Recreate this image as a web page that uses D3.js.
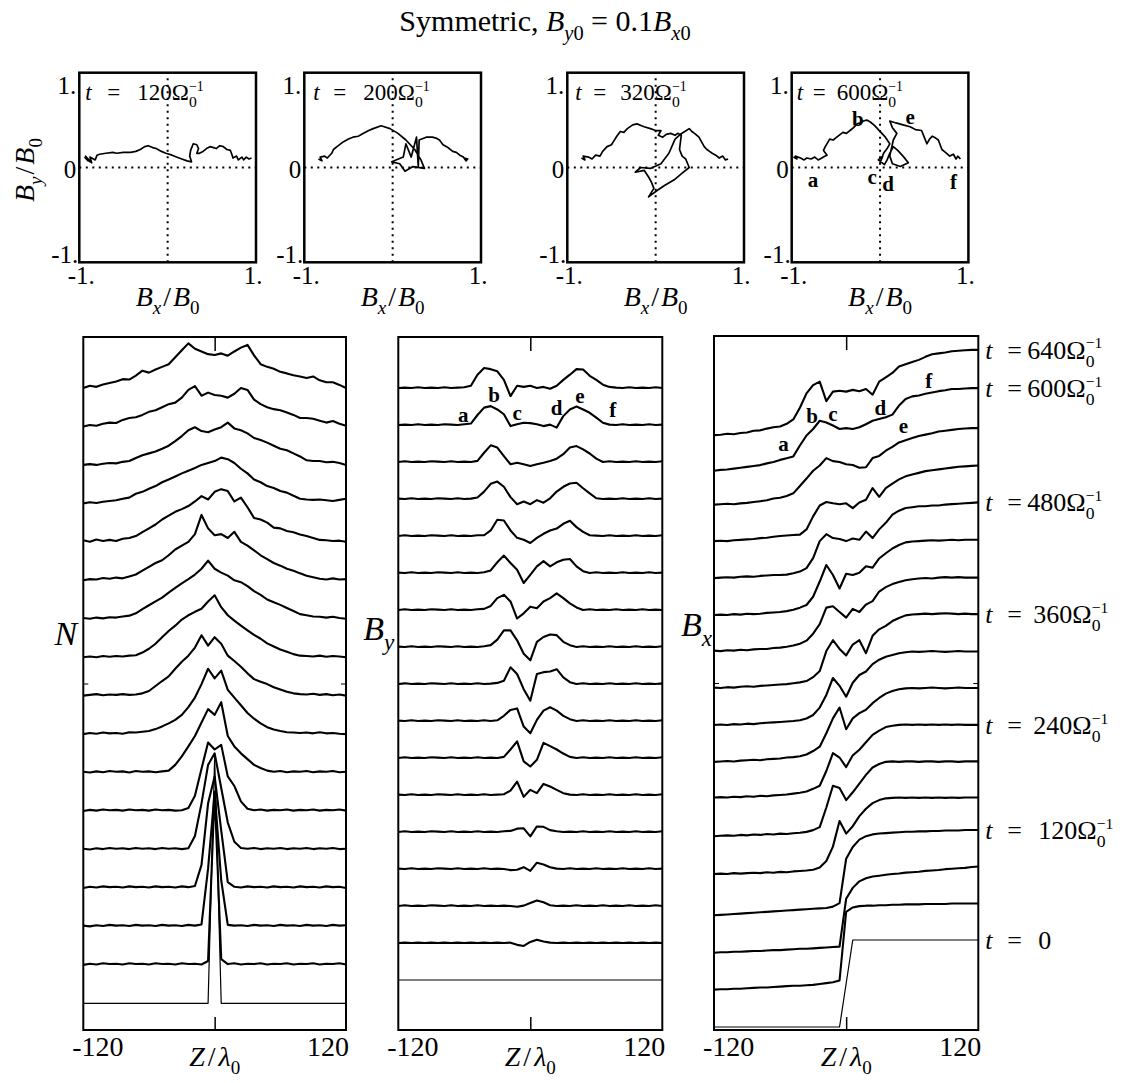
<!DOCTYPE html>
<html>
<head>
<meta charset="utf-8">
<script src="https://cdn.jsdelivr.net/npm/d3@7"></script>
<style>
  body { margin: 0; background: #fff; }
  svg { display: block; }
  text { font-family: 'Liberation Serif', 'DejaVu Serif', serif; fill: #000; }
</style>
</head>
<body>
<svg id="fig" width="1123" height="1083"></svg>
<script>
// ---- data ----
const zGrid = [-120,-114,-108,-102,-96,-90,-84,-78,-72,-66,-60,-54,-48,-42,-36,-30,-24,-18,-12,-6,0,
  6,12,18,24,30,36,42,48,54,60,66,72,78,84,90,96,102,108,114,120];
const times = [0,40,80,120,160,200,240,280,320,360,400,440,480,520,560,600,640];

// density N, row units above each baseline (index 0 = t=0)
const densityRows = [
  [0,0,0,0,0,0,0,0,0,0,0,0,0,0,0,0,0,0,0,0,6.4,0,0,0,0,0,0,0,0,0,0,0,0,0,0,0,0,0,0,0,0],
  [0,.03,.01,.04,.02,.03,.01,.04,.02,.03,.01,.04,.02,.03,.01,.04,.02,.03,.01,.10,4.50,.15,.02,.04,.01,.03,.02,.04,.01,.03,.02,.04,.01,.03,.02,.04,.01,.03,.02,.04,.01],
  [.02,0,.03,.01,.04,.02,.03,.01,.04,.02,.03,.01,.04,.02,.03,.01,.04,.02,.05,1.50,3.50,1.20,.04,.02,.03,.01,.04,.02,.03,.01,.04,.02,.03,.01,.04,.02,.03,.01,.04,.02,.03],
  [0,.03,.01,.04,.02,.03,.01,.04,.02,.03,.01,.04,.02,.03,.01,.04,.02,.05,.60,2.20,2.90,1.50,.15,.03,.01,.04,.02,.03,.01,.04,.02,.03,.01,.04,.02,.03,.01,.04,.02,.03,0],
  [.02,0,.03,.01,.04,.02,.03,.01,.04,.02,.03,.01,.04,.02,.03,.01,.03,.35,1.20,2.20,2.50,1.60,.70,.20,.04,.02,.04,.01,.03,.02,.04,.01,.03,.02,.04,.01,.03,.02,.04,.01,.02],
  [0,.03,.01,.04,.02,.03,.01,.04,.02,.03,.01,.04,.02,.03,.01,.02,.08,.40,1.10,1.78,1.60,1.72,.90,.65,.25,.06,.02,.04,.01,.03,.02,.04,.01,.03,.02,.04,.01,.03,.02,.04,.01],
  [.02,0,.03,.01,.04,.02,.03,0,.04,.02,.03,.01,.03,.05,.20,.42,.68,.95,1.30,1.65,1.50,1.83,.95,.68,.50,.35,.20,.12,.05,.02,.04,.01,.03,.02,.04,.01,.03,.02,.04,.01,.02],
  [0,.03,.01,.04,.02,.03,.01,.05,.04,.06,.08,.13,.20,.28,.37,.50,.70,.95,1.30,1.70,1.45,1.65,1.15,.95,.75,.55,.40,.28,.18,.12,.08,.05,.04,.03,.04,.02,.05,.02,.03,.01,0],
  [0,.02,.04,.01,.03,.02,.04,.02,.03,.06,.12,.25,.38,.50,.70,.88,1.04,1.25,1.57,1.30,1.52,1.35,1.04,.90,.75,.58,.43,.36,.30,.22,.16,.10,.06,.04,.03,.05,.02,.04,.01,.03,0],
  [0,.02,0,.03,.01,.03,.02,.04,.05,.12,.22,.35,.52,.68,.82,.98,1.09,1.18,1.26,1.45,1.61,1.30,1.09,.95,.82,.70,.58,.48,.36,.28,.20,.14,.08,.04,.03,.02,.04,.01,.03,.02,0],
  [.02,0,.03,.01,.04,.03,.06,.08,.14,.25,.35,.45,.55,.68,.80,.92,1.03,1.15,1.30,1.51,1.30,1.20,1.12,1.00,.95,.85,.72,.62,.50,.43,.36,.28,.20,.12,.09,.06,.05,.03,.05,.02,0],
  [0,.03,.02,.06,.04,.07,.05,.10,.15,.25,.35,.45,.52,.65,.80,.90,1.0,1.20,1.70,1.35,1.17,1.20,1.10,1.26,1.00,.90,.78,.65,.55,.45,.38,.30,.25,.18,.12,.08,.04,.02,.05,.02,.03],
  [.04,0,.06,.02,.05,.02,.08,.10,.15,.25,.35,.45,.58,.68,.78,.85,.93,1.05,1.19,1.10,1.30,1.37,1.32,1.05,1.15,.90,.62,.58,.50,.37,.35,.28,.25,.19,.15,.10,.05,.04,.02,.03,0],
  [0,.03,.01,.04,.06,.08,.12,.15,.25,.30,.38,.45,.55,.62,.70,.78,.85,.92,1.0,1.05,1.10,1.19,1.15,1.05,.90,.78,.62,.55,.45,.40,.32,.28,.20,.12,.10,.09,.10,.08,.06,.09,.12],
  [0,.02,0,.03,.05,.04,.08,.10,.18,.25,.30,.35,.42,.50,.62,.75,.90,.98,.88,.85,.92,.98,1.10,.95,.90,.82,.70,.65,.58,.50,.42,.38,.30,.22,.12,.10,.10,.07,.08,.05,0],
  [0,.04,.02,.07,.10,.09,.17,.22,.24,.30,.38,.42,.50,.58,.62,.75,.95,1.05,.80,.88,.82,.80,.75,.85,1.0,.95,.70,.58,.50,.45,.42,.36,.30,.22,.22,.20,.15,.10,.14,.07,.02],
  [0,.06,.03,.09,.13,.17,.23,.22,.32,.45,.40,.48,.55,.62,.80,.98,1.16,1.02,.95,.88,.86,.90,.84,.95,1.05,1.12,.85,.62,.55,.50,.42,.38,.33,.30,.26,.30,.20,.15,.15,.08,0]
];

// By, row units above each baseline
const byRows = [
  [0,0,0,0,0,0,0,0,0,0,0,0,0,0,0,0,0,0,0,0,0,0,0,0,0,0,0,0,0,0,0,0,0,0,0,0,0,0,0,0,0],
  [0,.01,0,.01,0,.01,0,.01,0,.01,0,.01,0,.01,0,.01,0,.01,-.05,-.08,.03,.09,.04,.01,0,.01,0,.01,0,.01,0,.01,0,.01,0,.01,0,.01,0,.01,0],
  [0,.02,0,.01,0,.02,.01,0,.02,0,.01,0,.02,0,.01,0,.01,0,-.02,.01,.08,.15,.10,.02,0,.01,0,.02,0,.01,0,.02,0,.01,0,.02,0,.01,0,.02,0],
  [.01,0,.02,0,.01,0,.02,.01,0,.02,0,.01,0,.02,0,.01,0,-.03,-.02,.05,-.05,.17,.12,.05,.01,0,.02,0,.01,0,.02,0,.01,0,.02,0,.01,0,.02,0,.01],
  [0,.02,0,.01,0,.02,.01,0,.02,0,.01,0,.02,0,.01,0,.02,.03,.09,.10,-.12,.15,.14,.05,.02,0,.01,0,.02,0,.01,0,.02,0,.01,0,.02,0,.01,0,.02],
  [.01,0,.02,0,.01,0,.02,.01,0,.02,0,.01,0,.02,0,.01,.02,.12,.36,-.05,.14,.05,.30,.23,.14,.05,.01,0,.02,0,.01,0,.02,0,.01,0,.02,0,.01,0,.02],
  [0,.02,0,.01,0,.02,.01,0,.02,0,.01,0,.02,0,.01,0,.03,.23,.45,-.09,-.23,-.05,.41,.32,.23,.12,.03,0,.02,0,.01,0,.02,0,.01,0,.02,0,.01,0,.02],
  [.01,0,.02,0,.01,0,.02,.01,0,.02,0,.01,0,.02,0,.02,.14,.30,.34,-.15,-.33,.03,.28,.37,.28,.14,.05,0,.02,0,.01,0,.02,0,.01,0,.02,0,.01,0,.02],
  [0,.02,0,.01,0,.02,.01,0,.02,0,.01,0,.02,0,.01,.03,.09,.45,.27,-.14,-.45,.27,.32,.34,.40,.18,.05,0,.02,0,.01,0,.02,0,.01,0,.02,0,.01,0,.02],
  [.01,0,.02,0,.01,0,.02,.01,0,.02,0,.01,0,.02,.05,.20,.45,.45,.18,-.18,-.36,.14,.27,.34,.32,.14,.05,0,.02,0,.01,0,.02,0,.01,0,.02,0,.01,0,.02],
  [0,.02,0,.01,0,.02,.01,0,.02,0,.01,0,.02,.03,.11,.32,.41,.23,-.23,-.09,.09,.05,.23,.32,.45,.32,.18,.07,0,.02,0,.01,0,.02,0,.01,0,.02,0,.01,0],
  [.01,0,.02,0,.01,0,.02,.01,0,.02,0,.01,0,.02,.07,.29,.47,.27,.09,-.27,-.05,.18,.32,.18,.29,.36,.38,.18,.05,0,.02,0,.01,0,.02,0,.01,0,.02,0,.01],
  [0,.02,0,.01,0,.02,.01,0,.02,0,.01,0,.02,.02,.15,.44,.42,.15,-.05,-.10,-.19,-.05,.06,.15,.20,.33,.41,.24,.11,.02,.01,0,.02,0,.01,0,.02,0,.01,0,.02],
  [.01,0,.02,0,.01,0,.02,.01,0,.02,0,.01,.04,.20,.41,.47,.33,.05,-.14,-.07,-.14,-.03,-.10,.02,.20,.33,.42,.44,.29,.15,.02,0,.01,0,.02,0,.01,0,.02,0,.01],
  [0,.02,0,.01,0,.02,.01,0,.02,0,.01,0,.03,.25,.45,.39,.16,-.06,-.02,-.06,-.11,-.06,-.02,.03,.09,.21,.39,.43,.34,.23,.09,0,.02,0,.01,0,.02,0,.01,0,.02],
  [0,.01,0,.02,0,.01,0,.02,.01,0,.02,.04,.27,.47,.51,.42,.29,-.03,.02,.06,.05,.02,-.03,.01,-.07,.24,.42,.50,.42,.33,.20,.06,.01,0,.02,0,.01,0,.02,0,.01],
  [0,.01,0,.02,0,.01,0,.02,0,.01,.02,.06,.36,.54,.51,.45,.22,-.22,.06,.03,.06,0,.03,-.02,.06,.22,.36,.51,.50,.33,.22,.09,.03,.01,0,.02,0,.01,0,.02,0]
];

// Bx / B0
const bxRows = [
  [-1,-1,-1,-1,-1,-1,-1,-1,-1,-1,-1,-1,-1,-1,-1,-1,-1,-1,-1,-1,0,1,1,1,1,1,1,1,1,1,1,1,1,1,1,1,1,1,1,1,1],
  [-.99,-.98,-.98,-.97,-.97,-.96,-.95,-.94,-.94,-.93,-.92,-.91,-.90,-.90,-.89,-.88,-.86,-.84,-.82,-.78,.80,.90,.93,.94,.94,.95,.95,.96,.96,.97,.97,.97,.98,.98,.98,.98,.99,.99,.99,.99,.99],
  [-.99,-.98,-.98,-.97,-.97,-.96,-.95,-.95,-.94,-.93,-.93,-.92,-.91,-.90,-.90,-.89,-.88,-.87,-.86,-.85,.25,.50,.65,.72,.76,.78,.80,.82,.83,.85,.86,.87,.89,.90,.91,.93,.94,.95,.96,.98,.99],
  [-.98,-.97,-.96,-.95,-.94,-.93,-.92,-.91,-.90,-.89,-.88,-.87,-.86,-.85,-.84,-.83,-.82,-.81,-.78,-.70,.32,.59,.76,.84,.88,.90,.91,.92,.93,.94,.94,.95,.95,.96,.96,.97,.97,.97,.98,.98,.98],
  [-.88,-.87,-.88,-.86,-.87,-.86,-.85,-.86,-.84,-.85,-.83,-.84,-.82,-.81,-.80,-.78,-.73,-.58,-.25,.34,.05,.22,.45,.62,.75,.82,.86,.87,.88,.87,.88,.87,.88,.87,.88,.87,.88,.87,.88,.88,.88],
  [-.86,-.85,-.84,-.85,-.83,-.84,-.82,-.83,-.81,-.82,-.80,-.81,-.79,-.78,-.76,-.72,-.65,-.20,.30,.25,-.03,.15,.35,.55,.72,.80,.85,.86,.85,.86,.86,.85,.86,.86,.85,.86,.86,.85,.86,.86,.86],
  [-.82,-.81,-.82,-.80,-.81,-.79,-.80,-.78,-.79,-.77,-.76,-.75,-.73,-.71,-.68,-.62,-.55,-.21,.20,.10,-.12,.15,.28,.45,.62,.72,.80,.83,.85,.86,.85,.86,.85,.86,.85,.86,.85,.86,.85,.85,.85],
  [-.85,-.84,-.83,-.84,-.82,-.81,-.80,-.81,-.79,-.78,-.77,-.75,-.74,-.72,-.68,-.60,-.50,-.19,.15,.40,-.10,.15,.27,.35,.50,.62,.72,.78,.82,.84,.85,.84,.85,.86,.85,.84,.85,.86,.85,.85,.85],
  [-.85,-.84,-.85,-.83,-.84,-.82,-.83,-.81,-.80,-.79,-.78,-.77,-.76,-.74,-.70,-.62,-.45,-.16,.23,.05,-.20,.12,.30,.38,.55,.65,.72,.76,.80,.82,.84,.83,.84,.85,.84,.83,.84,.85,.84,.84,.84],
  [-.84,-.85,-.83,-.84,-.82,-.81,-.82,-.80,-.79,-.78,-.77,-.76,-.74,-.72,-.69,-.60,-.46,.0,.25,.05,-.10,.15,.25,-.05,.35,.50,.58,.69,.76,.82,.84,.85,.86,.85,.86,.87,.86,.85,.86,.85,.85],
  [-.84,-.85,-.83,-.84,-.82,-.83,-.81,-.80,-.80,-.78,-.77,-.75,-.72,-.68,-.61,-.45,-.23,.15,.18,.05,-.08,.12,.05,.22,.30,.52,.62,.69,.74,.78,.80,.82,.83,.82,.84,.85,.84,.85,.84,.84,.84],
  [-.87,-.86,-.87,-.85,-.86,-.84,-.85,-.84,-.82,-.81,-.80,-.78,-.75,-.70,-.64,-.45,-.10,.28,.05,-.26,.08,.05,.10,.25,.22,.43,.55,.66,.74,.80,.82,.83,.84,.85,.84,.85,.86,.85,.86,.86,.86],
  [-.87,-.86,-.85,-.86,-.84,-.83,-.84,-.82,-.81,-.80,-.80,-.79,-.76,-.72,-.64,-.41,-.02,.14,.05,.03,-.02,.04,.01,.20,.05,.25,.40,.59,.68,.74,.76,.78,.78,.80,.80,.82,.83,.84,.85,.86,.87],
  [-.87,-.86,-.87,-.85,-.84,-.83,-.82,-.80,-.79,-.77,-.75,-.74,-.73,-.72,-.60,-.30,-.05,.03,.0,-.02,.0,-.11,.02,.08,.35,.15,.35,.45,.55,.62,.66,.70,.74,.76,.78,.80,.82,.84,.85,.86,.87],
  [-.88,-.87,-.86,-.87,-.85,-.84,-.82,-.80,-.78,-.74,-.72,-.68,-.62,-.45,-.28,-.10,.02,.19,.12,.10,.05,.03,-.03,-.02,.19,.24,.36,.45,.55,.60,.65,.70,.73,.76,.80,.82,.84,.86,.87,.88,.88],
  [-.95,-.93,-.92,-.90,-.88,-.86,-.84,-.82,-.78,-.75,-.70,-.66,-.62,-.37,-.14,.01,.20,.16,.09,.01,.03,.01,.05,.12,.20,.24,.28,.34,.55,.70,.76,.78,.82,.85,.88,.90,.93,.93,.94,.95,.95],
  [-.98,-.97,-.95,-.96,-.93,-.92,-.88,-.87,-.83,-.80,-.78,-.72,-.62,-.35,-.02,.17,.25,-.20,.02,.04,.02,.06,.03,.08,-.05,.25,.35,.45,.60,.65,.70,.75,.82,.88,.90,.92,.95,.96,.97,.98,.98]
];

// hodograms (Bx/B0, By/B0)
const hodoTimes = [120, 200, 320, 600];
const hodo120 = [[-.94,.11],[-.90,.07],[-.93,.12],[-.88,.06],[-.91,.10],[-.86,.05],[-.88,.11],[-.82,.08],[-.80,.13],[-.77,.14],[-.70,.15],[-.62,.16],[-.58,.15],[-.50,.16],[-.42,.16],[-.36,.17],[-.31,.19],[-.26,.22],[-.22,.23],[-.17,.21],[-.13,.20],[-.07,.17],[-.02,.15],[.05,.13],[.10,.11],[.16,.09],[.22,.07],[.27,.06],[.25,.12],[.26,.18],[.29,.25],[.33,.24],[.35,.20],[.33,.15],[.36,.15],[.40,.17],[.44,.20],[.48,.22],[.52,.21],[.55,.20],[.59,.23],[.63,.22],[.67,.19],[.71,.18],[.73,.13],[.74,.10],[.78,.12],[.80,.08],[.84,.11],[.86,.08],[.89,.11],[.92,.09],[.95,.10]];
const hodo200 = [[-.84,.09],[-.80,.07],[-.82,.11],[-.77,.12],[-.74,.10],[-.69,.15],[-.67,.19],[-.63,.22],[-.56,.27],[-.50,.30],[-.45,.32],[-.39,.33],[-.33,.36],[-.27,.39],[-.22,.41],[-.13,.44],[-.03,.41],[.06,.36],[.15,.29],[.25,.19],[.32,.08],[.36,-.01],[.23,.01],[.14,-.04],[.08,.04],[-.01,.06],[.12,.11],[.15,.25],[.21,.11],[.27,.32],[.29,.01],[.30,.29],[.38,.32],[.45,.32],[.49,.31],[.53,.29],[.57,.24],[.61,.22],[.64,.20],[.68,.17],[.72,.16],[.76,.13],[.80,.11],[.83,.07],[.85,.09],[.81,.10],[.84,.08]];
const hodo320 = [[-.84,.10],[-.80,.08],[-.82,.12],[-.76,.11],[-.72,.09],[-.68,.13],[-.63,.12],[-.60,.17],[-.55,.22],[-.50,.24],[-.48,.27],[-.44,.33],[-.40,.38],[-.36,.37],[-.32,.41],[-.26,.45],[-.21,.46],[-.16,.44],[-.13,.43],[-.06,.41],[.00,.39],[.06,.39],[.03,.34],[.08,.32],[.12,.35],[.17,.36],[.22,.34],[.25,.36],[.29,.34],[.27,.19],[.30,.12],[.34,.09],[.38,.00],[.30,-.06],[.21,-.13],[.10,-.19],[.02,-.24],[-.08,-.31],[-.02,-.22],[-.05,-.15],[-.08,-.10],[-.13,-.03],[-.23,-.05],[-.17,.00],[-.06,-.01],[.06,.04],[.15,.15],[.22,.30],[.28,.35],[.33,.38],[.38,.41],[.41,.38],[.44,.36],[.49,.32],[.52,.27],[.55,.22],[.58,.19],[.61,.17],[.64,.15],[.68,.13],[.72,.10],[.76,.12],[.79,.08],[.82,.09]];
const hodo600 = [[-.98,.11],[-.94,.09],[-.96,.12],[-.90,.10],[-.86,.08],[-.83,.10],[-.78,.09],[-.74,.11],[-.70,.08],[-.68,.09],[-.62,.12],[-.60,.13],[-.64,.18],[-.62,.22],[-.57,.30],[-.53,.29],[-.49,.32],[-.45,.35],[-.42,.37],[-.38,.36],[-.34,.39],[-.30,.42],[-.26,.46],[-.22,.47],[-.19,.49],[-.15,.50],[-.11,.48],[-.07,.45],[-.04,.42],[.01,.37],[.06,.32],[.11,.25],[.08,.20],[.04,.15],[.00,.05],[.03,.12],[-.02,.08],[.05,.03],[.08,.08],[.11,.15],[.15,.22],[.20,.18],[.26,.12],[.32,.05],[.23,.01],[.14,.04],[.11,.12],[.15,.29],[.19,.36],[.14,.42],[.11,.49],[.18,.47],[.26,.45],[.34,.43],[.40,.40],[.47,.39],[.50,.32],[.53,.25],[.56,.30],[.59,.33],[.63,.31],[.66,.29],[.68,.24],[.70,.19],[.74,.16],[.79,.12],[.83,.14],[.86,.09],[.88,.12],[.91,.09]];
const hodoCurves = [hodo120, hodo200, hodo320, hodo600];

const rightLabelTimes = [640, 600, 480, 360, 240, 120, 0];
const markLetters = ['a', 'b', 'c', 'd', 'e', 'f'];
const hodoMarks = [[-.76,-.13],[-.25,.52],[-.09,-.10],[.09,-.17],[.34,.54],[.83,-.15]];
const byMarks = [[-61,.29],[-33,.83],[-12,.34],[24,.48],[45,.78],[75,.42]];
const bxMarks = [[-57,-.33],[-31,.32],[-12,.36],[31,.51],[52,.09],[75,1.12]];

// ---- layout ----
const svg = d3.select('#fig');
svg.append('rect').attr('width', 1123).attr('height', 1083).attr('fill', '#fff');

function rich(g, x, y, parts, fs, anchor) {
  const t = g.append('text').attr('x', x).attr('y', y)
    .attr('font-size', fs).attr('text-anchor', anchor || 'start');
  let shift = 0;
  parts.forEach(function (p) {
    const s = t.append('tspan').text(p.t);
    let target = 0;
    if (p.sub) { target = fs * 0.3; s.attr('font-size', fs * 0.68); }
    if (p.sup) { target = -fs * 0.4; s.attr('font-size', fs * 0.6); }
    if (target !== shift) { s.attr('dy', target - shift); shift = target; }
    if (p.i) s.attr('font-style', 'italic');
    if (p.dx) s.attr('dx', p.dx);
    if (p.x) s.attr('x', p.x);
  });
  return t;
}
function omegaParts(fs) {
  return [{t: 'Ω'}, {t: '0', sub: 1}, {t: '−1', sup: 1, dx: -fs * 0.34}];
}

// title
rich(svg, 545, 31, [{t: 'Symmetric, '}, {t: 'B', i: 1}, {t: 'y', i: 1, sub: 1}, {t: '0', sub: 1},
  {t: ' = 0.1'}, {t: 'B', i: 1}, {t: 'x', i: 1, sub: 1}, {t: '0', sub: 1}], 30, 'middle');

// hodograms
const hodoLeft = [79.3, 304.3, 567.3, 791.7];
const hodoW = 176.7, hodoTop = 72.7, hodoBottom = 262.3;
const hodoLabelGap = [[6, 28, 58], [9, 29, 59], [8, 26, 53], [5, 21, 45]];

hodoCurves.forEach(function (pts, p) {
  const L = hodoLeft[p];
  const hx = d3.scaleLinear().domain([-1, 1]).range([L, L + hodoW]);
  const hy = d3.scaleLinear().domain([-1, 1]).range([hodoBottom, hodoTop]);
  const g = svg.append('g');
  g.append('line').attr('x1', hx(0)).attr('x2', hx(0)).attr('y1', hy(-1)).attr('y2', hy(1))
    .attr('stroke', '#000').attr('stroke-width', 2).attr('stroke-dasharray', '2,4.5');
  g.append('line').attr('x1', hx(-1)).attr('x2', hx(1)).attr('y1', hy(0)).attr('y2', hy(0))
    .attr('stroke', '#000').attr('stroke-width', 2).attr('stroke-dasharray', '2,4.5');
  g.append('path').datum(pts)
    .attr('d', d3.line().x(d => hx(d[0])).y(d => hy(d[1])))
    .attr('fill', 'none').attr('stroke', '#000').attr('stroke-width', 1.7)
    .attr('stroke-linejoin', 'round');
  g.append('rect').attr('x', hx(-1)).attr('y', hy(1)).attr('width', hodoW)
    .attr('height', hodoBottom - hodoTop).attr('fill', 'none')
    .attr('stroke', '#000').attr('stroke-width', 2.5);
  // tick labels
  g.append('text').attr('x', L - 3).attr('y', hy(1) + 21).attr('font-size', 25)
    .attr('text-anchor', 'end').text('1.');
  g.append('text').attr('x', L - 3).attr('y', hy(0) + 10).attr('font-size', 25)
    .attr('text-anchor', 'end').text('0');
  g.append('text').attr('x', L - 1).attr('y', hy(-1) + 1).attr('font-size', 25)
    .attr('text-anchor', 'end').text('-1.');
  g.append('text').attr('x', hx(-1) + 2).attr('y', 284).attr('font-size', 25)
    .attr('text-anchor', 'middle').text('-1.');
  g.append('text').attr('x', hx(1) - 3).attr('y', 284).attr('font-size', 25)
    .attr('text-anchor', 'middle').text('1.');
  rich(g, hx(0), 306, [{t: 'B', i: 1}, {t: 'x', i: 1, sub: 1}, {t: '/', dx: 2}, {t: 'B', i: 1, dx: 2}, {t: '0', sub: 1}], 28, 'middle');
  // time label
  const gap = hodoLabelGap[p];
  rich(g, L + gap[0], 100, [{t: 't', i: 1}, {t: '=', x: L + gap[1]}, {t: String(hodoTimes[p]), x: L + gap[2]}].concat(omegaParts(23)), 23);
  if (p === 3) {
    markLetters.forEach(function (m, k) {
      g.append('text').attr('x', hx(hodoMarks[k][0])).attr('y', hy(hodoMarks[k][1]))
        .attr('dy', '0.35em').attr('text-anchor', 'middle').attr('font-size', 21)
        .attr('font-weight', 'bold').text(m);
    });
  }
});
// y label of the hodograms
rich(svg, 0, 0, [{t: 'B', i: 1}, {t: 'y', i: 1, sub: 1}, {t: '/', dx: 2}, {t: 'B', i: 1, dx: 2}, {t: '0', sub: 1}], 28, 'middle')
  .attr('transform', 'translate(34,170) rotate(-90)');

// stacked profiles
const panels = [
  {rows: densityRows, left: 83.3, right: 346, top: 337, bottom: 1030, y0: 1003.3, y16: 388, unit: 38.45,
   label: [{t: 'N', i: 1}], labelY: 645, labelDx: 6},
  {rows: byRows, left: 398.3, right: 662.3, top: 337, bottom: 1030, y0: 980, y16: 388, unit: 37,
   label: [{t: 'B', i: 1}, {t: 'y', i: 1, sub: 1}], labelY: 640, labelDx: 4, marks: byMarks},
  {rows: bxRows, left: 714, right: 978.3, top: 336, bottom: 1030, y0: 983.5, y16: 392.5, unit: 43.5,
   label: [{t: 'B', i: 1}, {t: 'x', i: 1, sub: 1}], labelY: 636, labelDx: 2, marks: bxMarks}
];

panels.forEach(function (P, pi) {
  const x = d3.scaleLinear().domain([-120, 120]).range([P.left, P.right]);
  const row = d3.scaleLinear().domain([0, 16]).range([P.y0, P.y16]);
  const amp = d3.scaleLinear().domain([0, 1]).range([0, P.unit]);
  const g = svg.append('g');

  P.rows.forEach(function (vals, i) {
    const line = d3.line().x((d, k) => x(zGrid[k])).y(d => row(i) - amp(d));
    g.append('path').datum(vals).attr('d', line)
      .attr('fill', 'none').attr('stroke', '#000')
      .attr('stroke-width', i === 0 ? 1.2 : 2.1).attr('stroke-linejoin', 'round');
  });

  g.append('rect').attr('x', P.left).attr('y', P.top).attr('width', P.right - P.left)
    .attr('height', P.bottom - P.top).attr('fill', 'none')
    .attr('stroke', '#000').attr('stroke-width', 2);

  // centre ticks
  const axB = d3.axisBottom(x).tickValues([0]).tickSize(-13).tickFormat('');
  const axT = d3.axisTop(x).tickValues([0]).tickSize(-14).tickFormat('');
  g.append('g').attr('transform', 'translate(0,' + P.bottom + ')').call(axB)
    .call(s => s.select('.domain').remove()).selectAll('line').attr('stroke-width', 1.5);
  g.append('g').attr('transform', 'translate(0,' + P.top + ')').call(axT)
    .call(s => s.select('.domain').remove()).selectAll('line').attr('stroke-width', 1.5);
  const yf = d3.scaleLinear().domain([0, 1]).range([P.bottom, P.top]);
  g.append('g').attr('transform', 'translate(' + P.left + ',0)')
    .call(d3.axisLeft(yf).tickValues([0.5]).tickSize(-5).tickFormat(''))
    .call(s => s.select('.domain').remove());
  g.append('g').attr('transform', 'translate(' + P.right + ',0)')
    .call(d3.axisRight(yf).tickValues([0.5]).tickSize(-5).tickFormat(''))
    .call(s => s.select('.domain').remove());

  // axis labels
  g.append('text').attr('x', x(-120) - 11).attr('y', 1056).attr('font-size', 28).text('-120');
  g.append('text').attr('x', x(120) + 3).attr('y', 1056).attr('font-size', 28)
    .attr('text-anchor', 'end').text('120');
  rich(g, x(0), 1066, [{t: 'Z', i: 1}, {t: '/', dx: 3}, {t: 'λ', i: 1, dx: 3}, {t: '0', sub: 1}], 28, 'middle');
  rich(g, P.left - P.labelDx, P.labelY, P.label, 34, 'end');

  if (P.marks) {
    P.marks.forEach(function (m, k) {
      const yy = pi === 1 ? row(15 + m[1]) : row(15) - amp(m[1]);
      g.append('text').attr('x', x(m[0])).attr('y', yy).attr('dy', '0.35em')
        .attr('text-anchor', 'middle').attr('font-size', 21).attr('font-weight', 'bold')
        .text(markLetters[k]);
    });
  }

  if (pi === 2) {
    rightLabelTimes.forEach(function (t) {
      const i = times.indexOf(t);
      const vals = P.rows[i];
      const yy = row(i) - amp(vals[vals.length - 1]) + 9;
      const wide = (t === 120 || t === 0) ? 53 : (t === 360 || t === 240) ? 48 : 42;
      const X0 = P.right + 7;
      let parts = [{t: 't', i: 1}, {t: '=', x: X0 + 22}, {t: String(t), x: X0 + wide}];
      if (t !== 0) parts = parts.concat(omegaParts(26));
      rich(g, X0, yy, parts, 26);
    });
  }
});
</script>
</body>
</html>
